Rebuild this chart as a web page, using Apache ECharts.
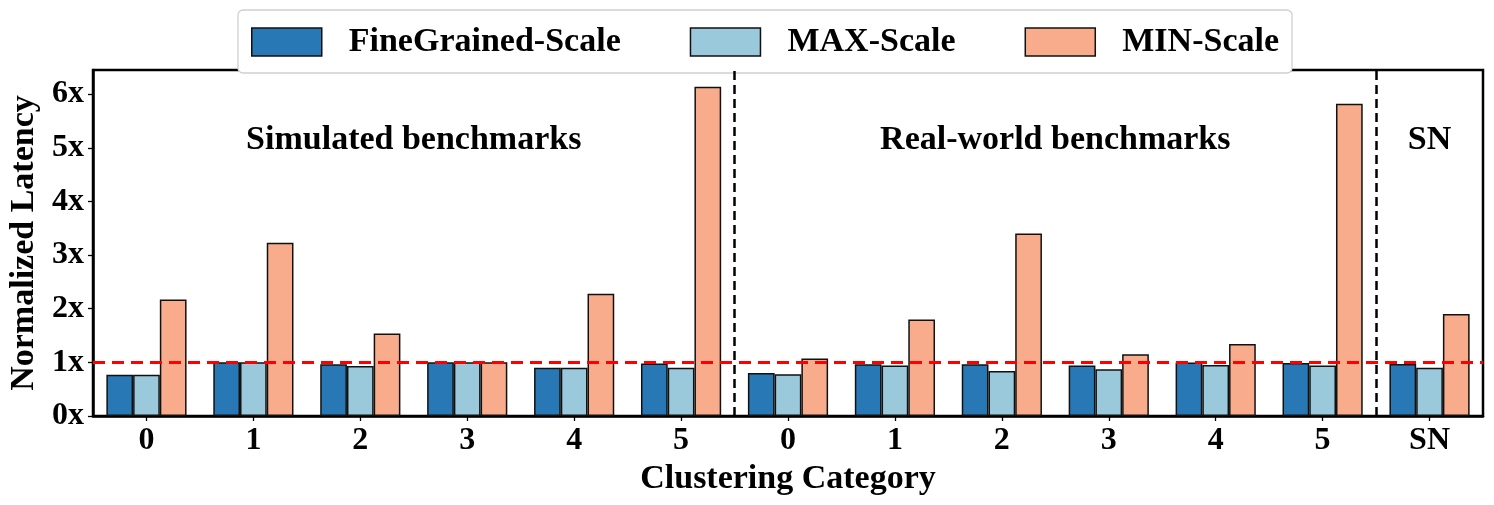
<!DOCTYPE html>
<html><head><meta charset="utf-8">
<script src="https://cdn.jsdelivr.net/npm/echarts@6/dist/echarts.min.js"></script>
<style>html,body{margin:0;padding:0;background:#fff}#c{width:1494px;height:505px}</style>
</head><body><div id="c"></div>
<script>
const categories = ["0","1","2","3","4","5","0","1","2","3","4","5","SN"];
const seriesNames = ["FineGrained-Scale","MAX-Scale","MIN-Scale"];
const fineGrained = [0.77,1.00,0.965,1.00,0.90,0.98, 0.80,0.965,0.965,0.94,0.995,0.99, 0.97];
const maxScale    = [0.77,1.00,0.93,1.00,0.90,0.90, 0.78,0.94,0.84,0.87,0.95,0.94, 0.90];
const minScale    = [2.17,3.23,1.54,1.00,2.28,6.14, 1.07,1.80,3.40,1.15,1.34,5.82, 1.90];
const yTicks = [0,1,2,3,4,5,6];
const groupLabels = ["Simulated benchmarks","Real-world benchmarks","SN"];
const groupLabelPos = [2.5, 8.5, 12];
const groupLabelY = 5.15;
const dividers = [5.5, 11.5];
const baseline = 1;

const colors = ["#2878B5","#9AC9DB","#F8AC8C"];
const font = "'Liberation Serif','Times New Roman',serif";
const chart = echarts.init(document.getElementById('c'));
const vals = [fineGrained, maxScale, minScale];

const barSeries = seriesNames.map((n,i)=>({
  name:n, type:'bar', data:vals[i], barWidth:'25%', barGap:'0%',
  itemStyle:{color:colors[i], borderColor:'#111', borderWidth:1.5},
  emphasis:{disabled:true},
  markLine: i===0 ? {silent:true, symbol:'none', z:10, label:{show:false},
    lineStyle:{color:'#ff0000', type:[12,7], width:3.2},
    data:[{yAxis:baseline}]} : undefined
}));

chart.setOption({
  animation:false,
  color:colors,
  legend:{
    data:seriesNames, top:10, left:238, width:1052, icon:'rect',
    itemWidth:70, itemHeight:28, itemGap:69,
    padding:[15,13,14,13],
    backgroundColor:'#fff', borderColor:'#d0d0d0', borderWidth:1.3, borderRadius:5,
    textStyle:{fontFamily:font, fontWeight:'bold', fontSize:34, color:'#000', padding:[0,0,0,22]},
    itemStyle:{borderColor:'#111', borderWidth:1.5}
  },
  grid:{left:93, right:11, top:70, bottom:89, show:true, borderColor:'#000', borderWidth:2.5, z:0,
    containLabel:false, outerBoundsMode:'none'},
  xAxis:[{
    type:'category', data:categories,
    axisLine:{onZero:false, lineStyle:{color:'#000', width:2.5}},
    axisTick:{show:true, alignWithLabel:true, length:5, lineStyle:{color:'#000', width:1.3}},
    axisLabel:{fontFamily:font, fontWeight:'bold', fontSize:32, color:'#000', margin:9},
    name:'Clustering Category', nameLocation:'middle', nameGap:46,
    nameTextStyle:{fontFamily:font, fontWeight:'bold', fontSize:34, color:'#000'}
  },{
    type:'value', min:-0.5, max:12.5, show:false
  }],
  yAxis:{
    type:'value', min:0, max:6.45, interval:1,
    axisLine:{show:true, onZero:false, lineStyle:{color:'#000', width:2.5}},
    axisTick:{show:true, length:5, lineStyle:{color:'#000', width:1.3}},
    splitLine:{show:false},
    axisLabel:{fontFamily:font, fontWeight:'bold', fontSize:32, color:'#000', margin:9,
      showMaxLabel:false, formatter:v=> yTicks.includes(v) ? v+'x' : ''},
    name:'Normalized Latency', nameLocation:'middle', nameGap:51,
    nameTextStyle:{fontFamily:font, fontWeight:'bold', fontSize:34, color:'#000'}
  },
  series:[...barSeries, {
    type:'scatter', xAxisIndex:1, symbolSize:0, silent:true,
    itemStyle:{opacity:1},
    data: groupLabels.map((t,i)=>({value:[groupLabelPos[i], groupLabelY], name:t})),
    label:{show:true, position:'inside', formatter:p=>p.name, opacity:1,
      fontFamily:font, fontWeight:'bold', fontSize:34, color:'#000'},
    markLine:{silent:true, symbol:'none', z:10, label:{show:false},
      lineStyle:{color:'#000', type:[9,5], width:2.5},
      data: dividers.map(d=>({xAxis:d}))}
  }]
});
</script></body></html>
